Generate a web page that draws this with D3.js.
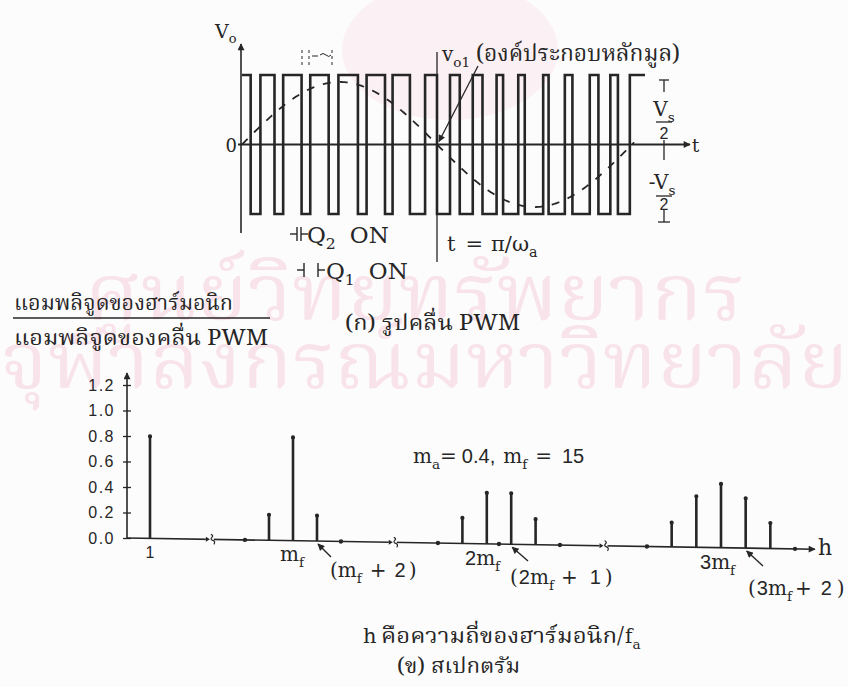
<!DOCTYPE html>
<html><head><meta charset="utf-8">
<script src="https://cdn.jsdelivr.net/npm/d3@7"></script>
<style>body{margin:0;background:#fdfcfc}svg{display:block}</style>
</head><body><svg id="c" width="848" height="687"></svg>
<script>
// ---------------- data ----------------
// (a) PWM waveform: switching instants in degrees of the fundamental, first level = +Vs/2
const switchAngles = [8,17,30,38,55,63,80,89,107,115,132,139,155,169,180,192,201,213,222,235,241,255,261,278,283,298,305,321,329,340,347,358];
const waveEnd = 372;
const startLevel = 1;
const fundamentalAmp = 0.9;
const sineEnd = 362;
// (b) spectrum (mf = 15)
const harmonics = [1,13,15,17,27,29,31,33,41,43,45,47,49];
const amplitudes = [0.80,0.20,0.81,0.20,0.20,0.40,0.40,0.20,0.19,0.40,0.50,0.39,0.20];
const zeroHarmonics = [11,19,25,30,35,39,51];
const axisBreaks = [7.3,22.2,37];
const yTicks = [0.0,0.2,0.4,0.6,0.8,1.0,1.2];

// ---------------- setup ----------------
const svg = d3.select('#c');
const INK = '#262626';
const SERIF = "'DejaVu Serif','Liberation Serif',serif";
const SANS = "'Liberation Sans','DejaVu Sans',sans-serif";
const THAI = "'Noto Serif Thai','Noto Sans Thai','Norasi','Loma','Garuda','Tlwg Typo',serif";

const defs = svg.append('defs');
defs.append('marker').attr('id','arr').attr('viewBox','0 0 10 10').attr('refX',9).attr('refY',5)
  .attr('markerWidth',9).attr('markerHeight',7).attr('markerUnits','userSpaceOnUse').attr('orient','auto')
  .append('path').attr('d','M0,0L10,5L0,10z').attr('fill',INK);

// watermark (faint)
const wm = svg.append('g').attr('fill','#f8e3ea');
wm.append('ellipse').attr('cx',450).attr('cy',50).attr('rx',108).attr('ry',70).attr('fill','#fbf0f3');
wm.append('text').attr('x',85).attr('y',320).attr('font-family',THAI).attr('font-size',78)
  .attr('textLength',660).attr('lengthAdjust','spacingAndGlyphs').text('ศูนย์วิทยทรัพยากร');
wm.append('text').attr('x',0).attr('y',388).attr('font-family',THAI).attr('font-size',78)
  .attr('textLength',848).attr('lengthAdjust','spacingAndGlyphs').text('จุฬาลงกรณ์มหาวิทยาลัย');

// rich text helper: pieces = [text, kind('n'|'s'), extra dx, font override]
function rich(g, x, y, size, pieces, anchor){
  const e = g.append('text').attr('x',x).attr('y',y).attr('font-size',size).attr('text-anchor',anchor||'start');
  let sub = false;
  pieces.forEach(([txt,kind,dx,font])=>{
    const s = e.append('tspan').text(txt);
    if(kind==='s' && !sub){ s.attr('dy',size*0.28); sub=true; }
    else if(kind!=='s' && sub){ s.attr('dy',-size*0.28); sub=false; }
    if(kind==='s') s.attr('font-size',size*0.68);
    if(dx) s.attr('dx',dx);
    if(font) s.attr('font-family',font);
  });
  return e;
}

// ---------------- (a) waveform ----------------
const xT = d3.scaleLinear().domain([0,180]).range([242,437]);
const yT = d3.scaleLinear().domain([-1,1]).range([214,75]);
const gA = svg.append('g').attr('stroke',INK).attr('fill','none');

gA.append('line').attr('x1',xT(0)-1).attr('x2',xT(0)-1).attr('y1',233).attr('y2',44).attr('stroke-width',1.6).attr('marker-end','url(#arr)');
gA.append('line').attr('x1',238).attr('x2',690).attr('y1',yT(0)).attr('y2',yT(0)).attr('stroke-width',2).attr('marker-end','url(#arr)');

const pts = [{a:0,l:startLevel}];
let lev = startLevel;
switchAngles.forEach(a=>{ lev = -lev; pts.push({a,l:lev}); });
pts.push({a:waveEnd,l:lev});
gA.append('path').attr('d', d3.line().x(d=>xT(d.a)).y(d=>yT(d.l)).curve(d3.curveStepAfter)(pts))
  .attr('stroke-width',2.6).attr('stroke-linejoin','miter');

gA.append('path').attr('d', d3.line().x(d=>xT(d)).y(d=>yT(fundamentalAmp*Math.sin(d*Math.PI/180)))(d3.range(0,sineEnd+1,1)))
  .attr('stroke-width',1.8).attr('stroke-dasharray','8,9');

gA.append('line').attr('x1',xT(180)).attr('x2',xT(180)).attr('y1',52).attr('y2',262).attr('stroke-width',1.3);
gA.append('line').attr('x1',478).attr('y1',66).attr('x2',xT(180)+2).attr('y2',yT(0)-3).attr('stroke-width',1.3).attr('marker-end','url(#arr)');

[302,309,332].forEach(x=>gA.append('line').attr('x1',x).attr('x2',x).attr('y1',50).attr('y2',68).attr('stroke-width',1).attr('stroke-dasharray','3,3'));
gA.append('line').attr('x1',312).attr('x2',318).attr('y1',56).attr('y2',56).attr('stroke-width',1);
gA.append('path').attr('d','M320,55 q3,-3 6,0 q3,3 5,0').attr('stroke-width',1);

const dx = 664;
const dim = gA.append('g').attr('stroke-width',1.3);
dim.append('line').attr('x1',dx-5).attr('x2',dx+5).attr('y1',yT(1)+5).attr('y2',yT(1)+5);
dim.append('line').attr('x1',dx).attr('x2',dx).attr('y1',yT(1)+5).attr('y2',92);
dim.append('line').attr('x1',dx-8).attr('x2',dx+8).attr('y1',122).attr('y2',122);
dim.append('line').attr('x1',dx).attr('x2',dx).attr('y1',140).attr('y2',160);
dim.append('line').attr('x1',dx-8).attr('x2',dx+8).attr('y1',196).attr('y2',196);
dim.append('line').attr('x1',dx).attr('x2',dx).attr('y1',210).attr('y2',222);
dim.append('line').attr('x1',dx-6).attr('x2',dx+6).attr('y1',222).attr('y2',222);

const tA = svg.append('g').attr('fill',INK).attr('font-family',SERIF);
rich(tA,215,38,19,[['V','n'],['o','s']]);
tA.append('text').attr('x',237).attr('y',152).attr('text-anchor','end').attr('font-size',18).text('0');
tA.append('text').attr('x',692).attr('y',152).attr('font-size',18).text('t');
rich(tA,dx,116,20,[['V','n'],['s','s']],'middle');
tA.append('text').attr('x',dx).attr('y',139).attr('text-anchor','middle').attr('font-size',16).attr('font-family',SANS).text('2');
rich(tA,dx-2,189,20,[['-V','n'],['s','s']],'middle');
tA.append('text').attr('x',dx).attr('y',210).attr('text-anchor','middle').attr('font-size',16).attr('font-family',SANS).text('2');

rich(tA,442,61,20,[['v','n'],['o1','s']]);
tA.append('text').attr('x',476).attr('y',61).attr('font-family',THAI).attr('font-size',23)
  .attr('textLength',204).attr('lengthAdjust','spacingAndGlyphs').text('(องค์ประกอบหลักมูล)');

const q = svg.append('g').attr('stroke',INK).attr('stroke-width',1.4);
q.append('line').attr('x1',290).attr('x2',297).attr('y1',234).attr('y2',234);
q.append('line').attr('x1',297).attr('x2',297).attr('y1',227).attr('y2',241);
q.append('line').attr('x1',301).attr('x2',301).attr('y1',227).attr('y2',241);
q.append('line').attr('x1',301).attr('x2',308).attr('y1',234).attr('y2',234);
q.append('line').attr('x1',297).attr('x2',304).attr('y1',270).attr('y2',270);
q.append('line').attr('x1',304).attr('x2',304).attr('y1',263).attr('y2',277);
q.append('line').attr('x1',318).attr('x2',318).attr('y1',263).attr('y2',277);
q.append('line').attr('x1',318).attr('x2',325).attr('y1',270).attr('y2',270);
rich(tA,307,243,23,[['Q','n'],['2','s'],['ON','n',14]]);
rich(tA,326,279,23,[['Q','n'],['1','s'],['ON','n',14]]);
rich(tA,447,251,21,[['t','n'],['=','n',10],['π/ω','n',8],['a','s']]);

tA.append('text').attr('x',345).attr('y',330).attr('font-family',THAI).attr('font-size',21)
  .attr('textLength',175).attr('lengthAdjust','spacingAndGlyphs').text('(ก) รูปคลื่น PWM');

tA.append('text').attr('x',14).attr('y',310).attr('font-family',THAI).attr('font-size',21)
  .attr('textLength',219).attr('lengthAdjust','spacingAndGlyphs').text('แอมพลิจูดของฮาร์มอนิก');
svg.append('line').attr('x1',13).attr('x2',270).attr('y1',318).attr('y2',318).attr('stroke',INK).attr('stroke-width',1.4);
tA.append('text').attr('x',14).attr('y',345).attr('font-family',THAI).attr('font-size',21)
  .attr('textLength',254).attr('lengthAdjust','spacingAndGlyphs').text('แอมพลิจูดของคลื่น PWM');

// ---------------- (b) spectrum ----------------
const OX = 127, OY = 538, SKEW = 0.934;
const slope = Math.tan(SKEW*Math.PI/180);
const xS = d3.scaleLinear().domain([0,1,11,19,25,35,39,51,53.3]).range([0,23,118,214,311,433,520,668,688]);
const yS = d3.scaleLinear().domain([0,1.2]).range([0,-153]);
const baseY = x => OY + slope*(x-OX);

const gY = svg.append('g').attr('transform',`translate(${OX},${OY})`);
gY.append('line').attr('x1',0).attr('x2',0).attr('y1',0).attr('y2',-165).attr('stroke',INK).attr('stroke-width',1.6).attr('marker-end','url(#arr)');
const ax = gY.append('g').call(d3.axisLeft(yS).tickValues(yTicks).tickFormat(d3.format('.1f')).tickSize(4).tickPadding(8));
ax.select('.domain').remove();
ax.selectAll('.tick line').attr('x1',4).attr('x2',-4).attr('stroke',INK).attr('stroke-width',1.3);
ax.selectAll('.tick text').attr('font-family',SANS).attr('font-size',16).attr('letter-spacing',1.5).attr('fill',INK);

const gS = svg.append('g').attr('transform',`translate(${OX},${OY}) skewY(${SKEW})`);
gS.append('line').attr('x1',0).attr('x2',xS(53.3)).attr('y1',0).attr('y2',0).attr('stroke',INK).attr('stroke-width',1.6).attr('marker-end','url(#arr)');
axisBreaks.forEach(b=>{
  const x = xS(b);
  gS.append('rect').attr('x',x-4).attr('y',-3).attr('width',8).attr('height',6).attr('fill','#fdfcfc');
  gS.append('path').attr('d',`M${x-4},-2.5L${x},0L${x-4},2.5z`).attr('fill',INK);
  gS.append('path').attr('d',`M${x+1},-5 q3,1 1,3 q-2,2 1,3 q3,1 1,4`).attr('fill','none').attr('stroke',INK).attr('stroke-width',1.2);
});
gS.selectAll('.z').data(zeroHarmonics).enter().append('circle')
  .attr('cx',d=>xS(d)).attr('cy',0).attr('r',2.2).attr('fill',INK);
const bars = harmonics.map((h,i)=>({h,v:amplitudes[i]}));
gS.selectAll('.b').data(bars).enter().append('line')
  .attr('x1',d=>xS(d.h)).attr('x2',d=>xS(d.h)).attr('y1',0).attr('y2',d=>yS(d.v))
  .attr('stroke',INK).attr('stroke-width',2.6);
gS.selectAll('.bt').data(bars).enter().append('circle')
  .attr('cx',d=>xS(d.h)).attr('cy',d=>yS(d.v)).attr('r',2.1).attr('fill',INK);

const tB = svg.append('g').attr('fill',INK).attr('font-family',SERIF);
const hx = h => OX + xS(h);
tB.append('text').attr('x',hx(1)).attr('y',558).attr('text-anchor','middle').attr('font-family',SANS).attr('font-size',16).text('1');
rich(tB,hx(15)-13,561,20,[['m','n'],['f','s']]);
rich(tB,330,577,20,[['(m','n'],['f','s'],['+','n',8],['2','n',8,SANS],[')','n',3]]);
rich(tB,465,565,20,[['2','n',0,SANS],['m','n'],['f','s']]);
rich(tB,510,584,20,[['(','n'],['2','n',1,SANS],['m','n'],['f','s'],['+','n',7],['1','n',12,SANS],[')','n',4]]);
rich(tB,700,569,20,[['3','n',0,SANS],['m','n'],['f','s']]);
rich(tB,748,595,20,[['(','n'],['3','n',1,SANS],['m','n'],['f','s'],['+','n',3],['2','n',9,SANS],[')','n',5]]);
tB.append('text').attr('x',818).attr('y',555).attr('font-size',22).text('h');
rich(tB,413,463,20,[['m','n'],['a','s'],['=','n',0],['0.4,','n',5,SANS],['m','n',8],['f','s'],['=','n',8],['15','n',10,SANS]]);

const ptr = svg.append('g').attr('stroke',INK).attr('stroke-width',1.4);
[[17,331,557],[31,528,561],[47,763,566]].forEach(([h,x0,y0])=>{
  ptr.append('line').attr('x1',x0).attr('y1',y0).attr('x2',hx(h)+1).attr('y2',baseY(hx(h))+3).attr('marker-end','url(#arr)');
});

tB.append('text').attr('x',363).attr('y',643).attr('font-size',21).text('h');
tB.append('text').attr('x',381).attr('y',643).attr('font-family',THAI).attr('font-size',21)
  .attr('textLength',243).attr('lengthAdjust','spacingAndGlyphs').text('คือความถี่ของฮาร์มอนิก/');
rich(tB,625,643,20,[['f','n'],['a','s']]);
tB.append('text').attr('x',397).attr('y',673).attr('font-family',THAI).attr('font-size',21)
  .attr('textLength',123).attr('lengthAdjust','spacingAndGlyphs').text('(ข) สเปกตรัม');
</script></body></html>
